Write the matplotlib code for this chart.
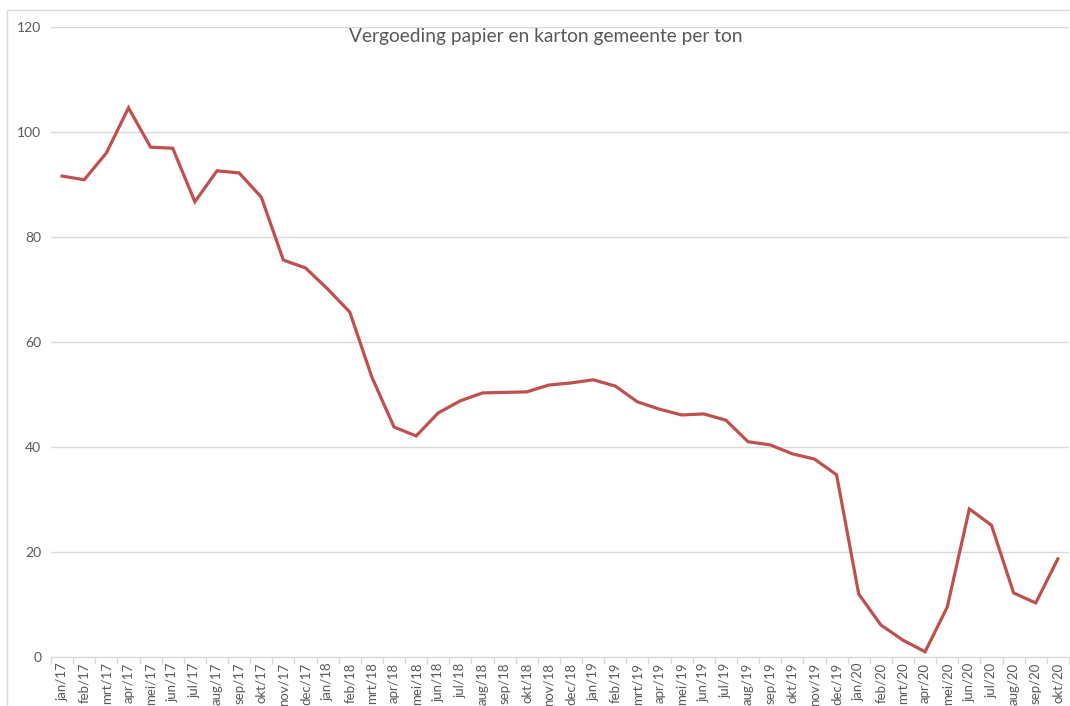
import matplotlib
matplotlib.use("Agg")
import matplotlib.pyplot as plt
from matplotlib.patches import Rectangle

plt.rcParams['font.family'] = ['Lato', 'DejaVu Sans']

maanden = ['jan', 'feb', 'mrt', 'apr', 'mei', 'jun', 'jul', 'aug', 'sep', 'okt', 'nov', 'dec']
labels = [f"{m}/{j}" for j in ['17', '18', '19'] for m in maanden] + [f"{m}/20" for m in maanden[:10]]

vergoeding = [91.6, 90.9, 96.0, 104.6, 97.1, 96.9, 86.7, 92.6, 92.2, 87.6, 75.6, 74.1,
              70.1, 65.7, 53.3, 43.8, 42.1, 46.5, 48.8, 50.3, 50.4, 50.5, 51.8, 52.2,
              52.8, 51.6, 48.6, 47.2, 46.1, 46.3, 45.1, 41.0, 40.4, 38.7, 37.7, 34.7,
              12.0, 6.1, 3.2, 1.0, 9.5, 28.2, 25.1, 12.2, 10.3, 18.7]

grijs = '#595959'
x = list(range(len(labels)))

fig = plt.figure(figsize=(10.70, 7.06), dpi=100)
ax = fig.add_axes([0.0477, 0.0694, 0.9513, 0.8924])

ax.plot(x, vergoeding, color='#C0504D', linewidth=2.3, solid_joinstyle='miter')

ax.set_xlim(-0.5, len(labels) - 0.5)
ax.set_ylim(0, 120)
ax.set_yticks(range(0, 121, 20))
ax.set_xticks(x)
ax.set_xticklabels(labels, rotation=90)
ax.set_xticks([i - 0.5 for i in range(len(labels) + 1)], minor=True)
ax.tick_params(axis='x', which='major', length=0, pad=4, labelsize=9.5, labelcolor=grijs)
ax.tick_params(axis='x', which='minor', length=5, color='#D9D9D9', width=1)
ax.tick_params(axis='y', length=0, pad=7, labelsize=10, labelcolor=grijs)

ax.grid(axis='y', color='#D9D9D9', linewidth=1)
ax.set_axisbelow(True)
for s in ['top', 'right', 'left']:
    ax.spines[s].set_visible(False)
ax.spines['bottom'].set_color('#D9D9D9')

fig.text(0.51, 0.949, "Vergoeding papier en karton gemeente per ton", ha='center', va='center',
         fontsize=13.8, color=grijs)

fig.patches.append(Rectangle((0.0065, -0.1), 1.1, 0.1 + 0.986, transform=fig.transFigure,
                             fill=False, edgecolor='#D9D9D9', linewidth=1))

fig.savefig('out.png', dpi=100)
